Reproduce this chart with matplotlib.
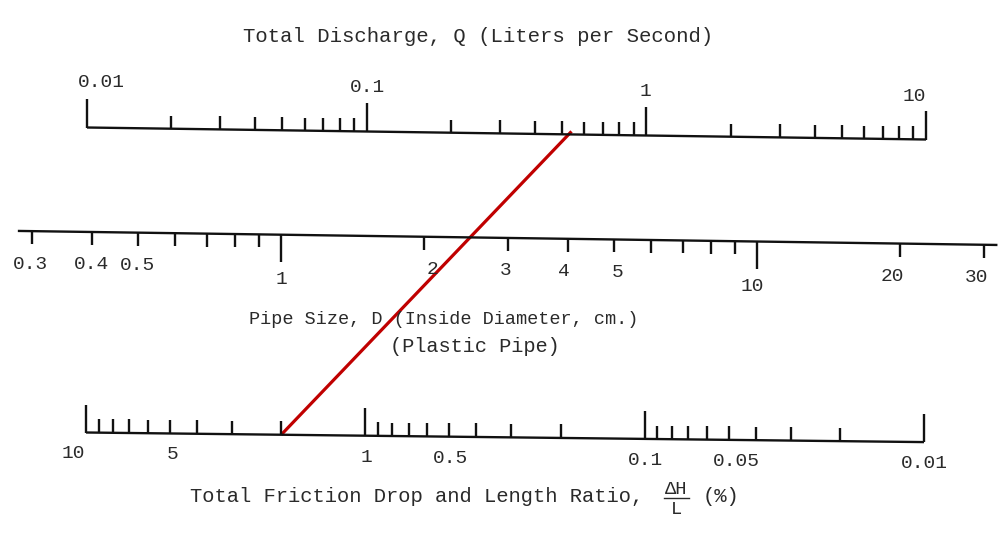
import matplotlib
matplotlib.use("Agg")
import matplotlib.pyplot as plt
import numpy as np

plt.rcParams["font.family"] = ["Liberation Mono", "DejaVu Sans Mono"]

# Discharge scale Q (L/s), log, ticks above the line
q_ticks = [0.01, 0.02, 0.03, 0.04, 0.05, 0.06, 0.07, 0.08, 0.09,
           0.1, 0.2, 0.3, 0.4, 0.5, 0.6, 0.7, 0.8, 0.9,
           1, 2, 3, 4, 5, 6, 7, 8, 9, 10]
q_major = [0.01, 0.1, 1, 10]
q_labels = ["0.01", "0.1", "1", "10"]

# Pipe size D (cm), log, ticks below the line
d_ticks = [0.3, 0.4, 0.5, 0.6, 0.7, 0.8, 0.9, 1,
           2, 3, 4, 5, 6, 7, 8, 9, 10, 20, 30]
d_major = [1, 10]
d_label_vals = [0.3, 0.4, 0.5, 1, 2, 3, 4, 5, 10, 20, 30]
d_labels = ["0.3", "0.4", "0.5", "1", "2", "3", "4", "5", "10", "20", "30"]
d_line = [0.28, 32]

# Friction drop dH/L (%), log reversed, ticks above the line
h_ticks = [10, 9, 8, 7, 6, 5, 4, 3, 2,
           1, 0.9, 0.8, 0.7, 0.6, 0.5, 0.4, 0.3, 0.2,
           0.1, 0.09, 0.08, 0.07, 0.06, 0.05, 0.04, 0.03, 0.02, 0.01]
h_major = [10, 1, 0.1, 0.01]
h_label_vals = [10, 5, 1, 0.5, 0.1, 0.05, 0.01]
h_labels = ["10", "5", "1", "0.5", "0.1", "0.05", "0.01"]

# example reading drawn in red
red_h = 2.0
red_q = 0.54

INK = "#111111"
TXT = "#2a2a2a"
W, H = 1004, 548

fig = plt.figure(figsize=(W / 100, H / 100), dpi=100)
fig.patch.set_facecolor("white")

overlay = fig.add_axes([0, 0, 1, 1])
overlay.set_xlim(0, W)
overlay.set_ylim(H, 0)
overlay.axis("off")


def scale_axes(x0, x1, lim):
    ax = fig.add_axes([x0 / W, 0, (x1 - x0) / W, 1])
    ax.set_xscale("log")
    ax.set_xlim(*lim)
    ax.set_ylim(H, 0)
    ax.axis("off")
    return ax


def draw_scale(ax, ticks, majors, line_vals, y0, slope, direction, minor_len, major_len):
    base = lambda v: y0 + slope * np.log10(v)
    ax.plot(line_vals, [base(v) for v in line_vals], color=INK, lw=1.7,
            solid_capstyle="butt", clip_on=False)
    for v in ticks:
        is_major = any(np.isclose(v, m) for m in majors)
        L = major_len if is_major else minor_len
        ax.plot([v, v], [base(v), base(v) + direction * L], color=INK,
                lw=1.7, solid_capstyle="butt", clip_on=False)
    return base


def put_labels(ax, base, vals, labels, dys, dxs, size=14):
    for v, lab, dy, dx in zip(vals, labels, dys, dxs):
        ax.annotate(lab, (v, base(v) + dy), xytext=(dx * 0.72, 0),
                    textcoords="offset points", ha="center", va="center",
                    fontsize=size, color=TXT, annotation_clip=False)


ax_q = scale_axes(87, 926, (0.01, 10))
base_q = draw_scale(ax_q, q_ticks, q_major, [0.01, 10], 135.5, 4.0, -1, 13, 29)
put_labels(ax_q, base_q, q_major, q_labels, [-45, -44, -44, -43], [14, 1, -1, -12])

ax_d = scale_axes(281, 757, (1, 10))
base_d = draw_scale(ax_d, d_ticks, d_major, d_line, 234.7, 6.82, 1, 13, 27)
d_dy = [45 if v in d_major else 33 for v in d_label_vals]
put_labels(ax_d, base_d, d_label_vals, d_labels, d_dy,
           [-2, 0, 0, 0, 8, -2, -4, 4, -5, -8, -8])

ax_h = scale_axes(86, 924, (10, 0.01))
base_h = draw_scale(ax_h, h_ticks, h_major, [10, 0.01], 435.7, -3.2, -1, 13.5, 28)
put_labels(ax_h, base_h, h_label_vals, h_labels, [21.5] * len(h_labels),
           [-13, 3, 1, 1, 1, 8, 0])

# red reading line from the friction scale to the discharge scale
p0 = ax_h.transData.transform((red_h, base_h(red_h)))
p1 = ax_q.transData.transform((red_q, base_q(red_q) - 3))
inv = overlay.transData.inverted()
(xa, ya), (xb, yb) = inv.transform(p0), inv.transform(p1)
overlay.plot([xa, xb], [ya, yb], color="#c00000", lw=2.3, solid_capstyle="butt")

# axis titles
overlay.text(478, 37, "Total Discharge, Q (Liters per Second)", ha="center",
             va="center", fontsize=14.9, color=TXT)
overlay.text(444, 320, "Pipe Size, D (Inside Diameter, cm.)", ha="center",
             va="center", fontsize=13.3, color=TXT)
overlay.text(475, 346, "(Plastic Pipe)", ha="center", va="center",
             fontsize=14.6, color=TXT)
overlay.text(190, 497, "Total Friction Drop and Length Ratio,", ha="left",
             va="center", fontsize=14.8, color=TXT)
overlay.text(676, 489, "\u0394H", ha="center", va="center", fontsize=13.5, color=TXT)
overlay.plot([664, 689], [497.5, 497.5], color=TXT, lw=1.0)
overlay.text(677, 509, "L", ha="center", va="center", fontsize=13.5, color=TXT)
overlay.text(703, 497, "(%)", ha="left", va="center", fontsize=14.8, color=TXT)

fig.savefig("out.png", dpi=100, facecolor="white")
